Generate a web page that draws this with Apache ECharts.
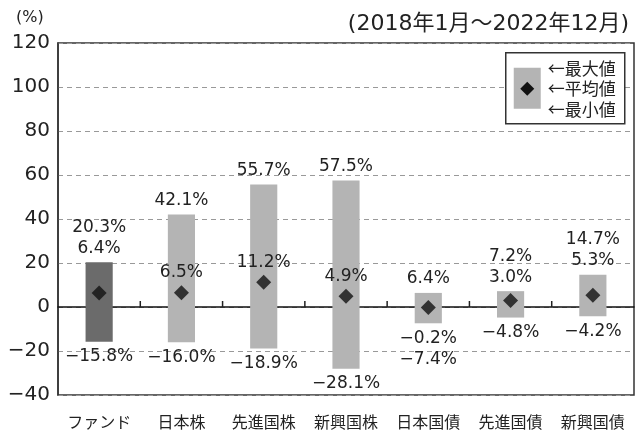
<!DOCTYPE html>
<html>
<head>
<meta charset="utf-8">
<script src="https://cdn.jsdelivr.net/npm/echarts@6/dist/echarts.min.js"></script>
<style>
  html, body { margin: 0; padding: 0; background: #fff; }
  #main { width: 641px; height: 432px; }
</style>
</head>
<body>
<div id="main"></div>
<script>
// カテゴリと値（2018年1月～2022年12月）
const categories = ['ファンド', '日本株', '先進国株', '新興国株', '日本国債', '先進国債', '新興国債'];
const maxValues = [20.3, 42.1, 55.7, 57.5, 6.4, 7.2, 14.7];
const meanValues = [6.4, 6.5, 11.2, 4.9, -0.2, 3.0, 5.3];
const minValues = [-15.8, -16.0, -18.9, -28.1, -7.4, -4.8, -4.2];
// 平均値ラベルの置き場所: 'top' 棒の上, 'mark' ◆の上, 'bottom' 棒の下
const meanLabelPlace = ['top', 'mark', 'mark', 'mark', 'bottom', 'top', 'top'];
const yTicks = { min: -40, max: 120, interval: 20 };

const FONT = '"DejaVu Sans", "Noto Sans CJK JP", sans-serif';
const JFONT = '"Noto Sans CJK JP", sans-serif';
const DARK = '#6b6b6b';
const LIGHT = '#b4b4b4';

function fmtPct(v) {
  return (v < 0 ? '\u2212' + Math.abs(v).toFixed(1) : v.toFixed(1)) + '%';
}

const rangeData = categories.map((c, i) => [i, minValues[i], maxValues[i]]);
const meanData = categories.map((c, i) => [i, meanValues[i]]);
const labelData = categories.map((c, i) => [i, minValues[i], meanValues[i], maxValues[i]]);
// 0の線上の区切り目盛（カテゴリ番号, 0）
const tickData = categories.map((c, i) => [i, 0]);

window.onload = function () {
  const chartDom = document.getElementById('main');
  const myChart = echarts.init(chartDom);

  const option = {
    animation: false,
    textStyle: { fontFamily: FONT },
    grid: {
      left: 58, right: 7, top: 43, bottom: 37,
      show: true, borderColor: '#333', borderWidth: 1.5
    },
    xAxis: [
      {
        type: 'category',
        data: categories,
        position: 'bottom',
        axisLine: { show: false, onZero: false },
        axisTick: { show: false },
        axisLabel: { interval: 0, fontSize: 16, color: '#222', margin: 19, fontFamily: JFONT }
      },
      {
        // 0の線
        type: 'category',
        data: categories,
        position: 'bottom',
        axisLine: { show: true, onZero: true, lineStyle: { color: '#111', width: 1.5 } },
        axisTick: { show: false },
        axisLabel: { show: false },
        splitLine: { show: false }
      }
    ],
    yAxis: {
      type: 'value',
      min: yTicks.min, max: yTicks.max, interval: yTicks.interval,
      axisLine: { show: true, lineStyle: { color: '#333', width: 1.5 } },
      axisTick: { show: false },
      axisLabel: {
        fontSize: 20, color: '#222', margin: 8, fontFamily: FONT,
        formatter: v => (v < 0 ? '\u2212' + Math.abs(v) : String(v))
      },
      splitLine: { show: true, lineStyle: { color: '#999', type: [5, 4], width: 1 } }
    },
    series: [
      {
        type: 'custom',
        xAxisIndex: 0,
        data: rangeData,
        z: 3,
        renderItem: function (params, api) {
          const i = api.value(0);
          const lo = api.coord([i, api.value(1)]);
          const hi = api.coord([i, api.value(2)]);
          const w = api.size([1, 0])[0] * 0.33;
          return {
            type: 'rect',
            shape: { x: lo[0] - w / 2, y: hi[1], width: w, height: lo[1] - hi[1] },
            style: { fill: i === 0 ? DARK : LIGHT }
          };
        }
      },
      {
        // 0の線上のカテゴリ区切り目盛
        type: 'custom',
        xAxisIndex: 0,
        data: tickData,
        z: 8,
        silent: true,
        clip: false,
        renderItem: function (params, api) {
          const i = api.value(0);
          const p = api.coord([i, api.value(1)]);
          const half = api.size([1, 0])[0] / 2;
          const x = p[0] - half;
          return {
            type: 'rect',
            shape: { x: x - 0.75, y: p[1] - 6, width: 1.5, height: 6 },
            style: { fill: i === 0 ? 'rgba(0,0,0,0)' : '#222' }
          };
        }
      },
      {
        type: 'scatter',
        xAxisIndex: 0,
        data: meanData,
        symbol: 'diamond',
        symbolSize: 15,
        itemStyle: { color: '#111' },
        z: 5
      },
      {
        type: 'custom',
        xAxisIndex: 0,
        data: labelData,
        z: 6,
        renderItem: function (params, api) {
          const i = api.value(0);
          const mn = api.value(1), av = api.value(2), mx = api.value(3);
          const pLo = api.coord([i, mn]);
          const pHi = api.coord([i, mx]);
          const pAv = api.coord([i, av]);
          const place = meanLabelPlace[i];
          const txt = (s, y) => ({
            type: 'text',
            style: {
              text: s, x: pLo[0], y: y, align: 'center', verticalAlign: 'middle',
              font: '17px ' + FONT, fill: '#222'
            }
          });
          const kids = [];
          if (place === 'top') {
            kids.push(txt(fmtPct(av), pHi[1] - 14));
            kids.push(txt(fmtPct(mx), pHi[1] - 35));
          } else {
            kids.push(txt(fmtPct(mx), pHi[1] - 14));
          }
          if (place === 'bottom') {
            kids.push(txt(fmtPct(av), pLo[1] + 15));
            kids.push(txt(fmtPct(mn), pLo[1] + 36));
          } else {
            kids.push(txt(fmtPct(mn), pLo[1] + 15));
          }
          if (place === 'mark') {
            kids.push(txt(fmtPct(av), pAv[1] - 20));
          }
          return { type: 'group', children: kids };
        }
      }
    ],
    graphic: [
      {
        type: 'text', left: 16, top: 10,
        style: { text: '(%)', font: '16px ' + FONT, fill: '#222' }
      },
      {
        type: 'text', right: 12, top: 13,
        style: { text: '(2018年1月～2022年12月)', font: '22px ' + FONT, fill: '#222' }
      },
      {
        type: 'group', left: 505, top: 52, z: 100,
        children: [
          { type: 'rect', z: 100, shape: { x: 0, y: 0, width: 119, height: 71 }, style: { fill: '#fff', stroke: '#333', lineWidth: 1.5 } },
          { type: 'rect', z: 101, shape: { x: 8, y: 15, width: 27, height: 41 }, style: { fill: LIGHT } },
          { type: 'polygon', z: 102, shape: { points: [[21.5, 29], [28.5, 36], [21.5, 43], [14.5, 36]] }, style: { fill: '#111' } },
          { type: 'text', z: 102, x: 42, y: 16, style: { text: '←最大値', font: '17px ' + JFONT, fill: '#222', verticalAlign: 'middle' } },
          { type: 'text', z: 102, x: 42, y: 36, style: { text: '←平均値', font: '17px ' + JFONT, fill: '#222', verticalAlign: 'middle' } },
          { type: 'text', z: 102, x: 42, y: 57, style: { text: '←最小値', font: '17px ' + JFONT, fill: '#222', verticalAlign: 'middle' } }
        ]
      }
    ]
  };

  option && myChart.setOption(option);
};
</script>
</body>
</html>
